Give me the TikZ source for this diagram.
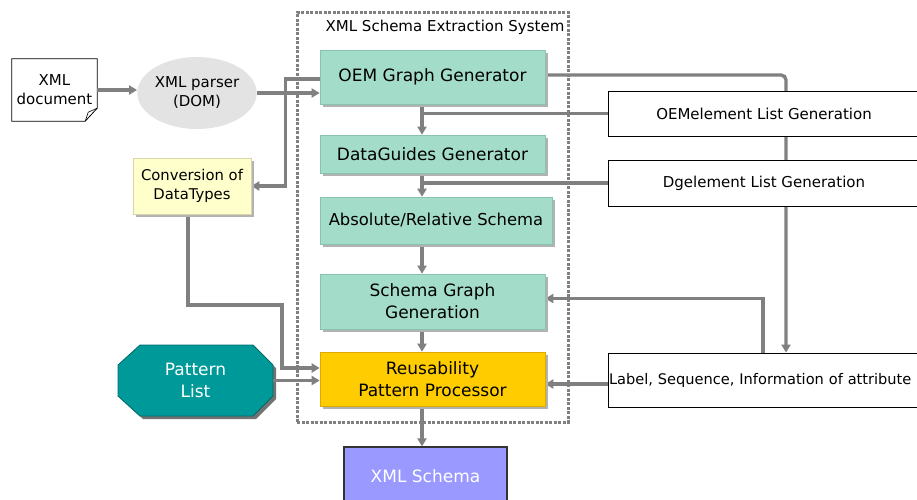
\documentclass[tikz,border=0pt]{standalone}
\usepackage{fontspec}
\setmainfont{DejaVu Sans}
\usetikzlibrary{arrows.meta,shadows,shapes.geometric}
\pgfdeclarelayer{bg}
\pgfdeclarelayer{lines}
\pgfsetlayers{bg,lines,main}
\definecolor{mint}{HTML}{A3DDCA}
\definecolor{mintd}{HTML}{86C4AE}
\definecolor{gold}{HTML}{FFCC00}
\definecolor{goldd}{HTML}{DDAA00}
\definecolor{lav}{HTML}{9999FF}
\definecolor{cream}{HTML}{FFFFCC}
\definecolor{creamd}{HTML}{D6D6A8}
\definecolor{pteal}{HTML}{009999}
\definecolor{ptealdark}{HTML}{006B6B}
\definecolor{linegray}{HTML}{808080}
\definecolor{ellgray}{HTML}{E3E3E3}
\tikzset{
  conn/.style={draw=linegray, line width=3.4pt},
  arr/.style={conn, -{Triangle[length=8pt,width=9pt]}},
  box/.style={rectangle, minimum width=225pt, minimum height=54pt, inner sep=0pt,
    align=center, font=\fontsize{17}{22}\selectfont},
  shad/.style={drop shadow={shadow xshift=2.5pt, shadow yshift=-2.5pt, fill=black!30, opacity=1}},
  mintbox/.style={box, fill=mint, draw=mintd, line width=0.6pt, shad},
  listbox/.style={rectangle, draw=black, line width=0.8pt, fill=white, minimum width=312pt,
    inner sep=0pt, font=\fontsize{15}{18}\selectfont},
  smalltext/.style={font=\fontsize{15}{19}\selectfont, align=center, inner sep=0pt},
  sysframe/.style={rectangle, draw=linegray, line width=3pt, dash pattern=on 3pt off 1.5pt},
}
\begin{document}
\begin{tikzpicture}[x=1pt,y=-1pt]
\useasboundingbox (0,0) rectangle (917,499);

% helper coordinates
\coordinate (spine) at (422,0);
\coordinate (rx) at (786,0);
\coordinate (lx) at (763,0);
\coordinate (cbend) at (282,305);

% nodes
\node[smalltext, minimum width=85pt, minimum height=62pt] (doc) at (54.5,90) {XML\\document};
\node[ellipse, fill=ellgray, minimum width=110pt, minimum height=72pt, smalltext] (parser) at (197,93) {XML parser\\(DOM)};
\node[box, fill=cream, draw=creamd, line width=0.6pt, shad, minimum width=118pt, minimum height=56pt,
  font=\fontsize{14.8}{19}\selectfont] (conv) at (192,186) {Conversion of\\DataTypes};

\node[mintbox] (oem) at (432.5,77) {OEM Graph Generator};
\node[mintbox, minimum height=38pt] (dg) at (432.5,154) {DataGuides Generator};
\node[mintbox, minimum width=232pt, minimum height=47pt, font=\fontsize{16.4}{20}\selectfont] (abs) at (436,220.5) {Absolute/Relative Schema};
\node[mintbox, minimum height=55pt] (sgg) at (432.5,301.5) {Schema Graph\\Generation};
\node[box, fill=gold, draw=goldd, line width=0.6pt, shad] (rpp) at (432.5,379) {Reusability\\Pattern Processor};
\node[box, fill=lav, draw=black!80, line width=1.2pt, minimum width=163pt, minimum height=58pt, text=white] (xs) at (425.5,476) {XML Schema};

\node[box, minimum width=155pt, minimum height=71pt, text=white] (pl) at (195.5,380.5) {Pattern\\List};

\node[listbox, minimum height=45pt] (oeml) at (764,113.5) {OEMelement List Generation};
\node[listbox, minimum height=46pt] (dgl) at (764,183) {Dgelement List Generation};
\node[listbox, minimum height=54pt, text width=312pt, align=left, font=\fontsize{14.6}{18}\selectfont] (lab) at (764,380) {\hspace{1pt}Label, Sequence, Information of attribute};

% frame and title
\node[sysframe, minimum width=271pt, minimum height=410pt, inner sep=0pt] (sys) at (432.5,217) {};
\node[font=\fontsize{15}{18}\selectfont, inner sep=0pt] (title) at (445,27) {XML Schema Extraction System};

% background shapes
\begin{pgfonlayer}{bg}
  \draw[line width=0.8pt, fill=white] (doc.north west) -- (doc.north east) -- ([yshift=13pt]doc.south east)
     -- ([xshift=-12pt]doc.south east) -- (doc.south west) -- cycle;
  \draw[line width=0.6pt] ([xshift=-12pt]doc.south east) -- ([xshift=-9pt,yshift=9pt]doc.south east) -- ([yshift=13pt]doc.south east);
  \fill[black!55] (143,348) -- (256,348) -- (276,368) -- (276,399) -- (256,419) -- (143,419) -- (121,399) -- (121,368) -- cycle;
  \draw[fill=pteal, draw=ptealdark, line width=0.8pt] (140,345) -- (253,345) -- (273,365) -- (273,396) -- (253,416)
     -- (140,416) -- (118,396) -- (118,365) -- cycle;
\end{pgfonlayer}

% connectors
\begin{pgfonlayer}{lines}
  \draw[arr] (doc.east) -- (doc.east -| parser.west);
  \draw[arr] (parser.east) -- (parser.east -| oem.west);
  \draw[arr] ([yshift=-2pt]oem.west) -- ++(-34,0) |- (conv.east);
  \draw[arr] (oem.south -| spine) -- (dg.north -| spine);
  \draw[conn] (spine |- oeml.west) -- (oeml.west);
  \draw[arr] (dg.south -| spine) -- (abs.north -| spine);
  \draw[conn] (spine |- dgl.west) -- (dgl.west);
  \draw[arr] (abs.south -| spine) -- (sgg.north -| spine);
  \draw[arr] (sgg.south -| spine) -- (rpp.north -| spine);
  \draw[arr] (rpp.south -| spine) -- (xs.north -| spine);
  \draw[arr, rounded corners=5pt] ([yshift=2pt]oem.east) -| (lab.north -| rx);
  \draw[arr] (lab.north -| lx) |- ([yshift=3pt]sgg.east);
  \draw[arr] ([yshift=-4pt]lab.west) -- ([yshift=-5pt]rpp.east);
  \draw[arr] ([xshift=-4pt]conv.south) |- (cbend) |- ([yshift=11pt]rpp.west);
  \draw[arr] (pl.east) -- (pl.east -| rpp.west);
\end{pgfonlayer}
\end{tikzpicture}
\end{document}
